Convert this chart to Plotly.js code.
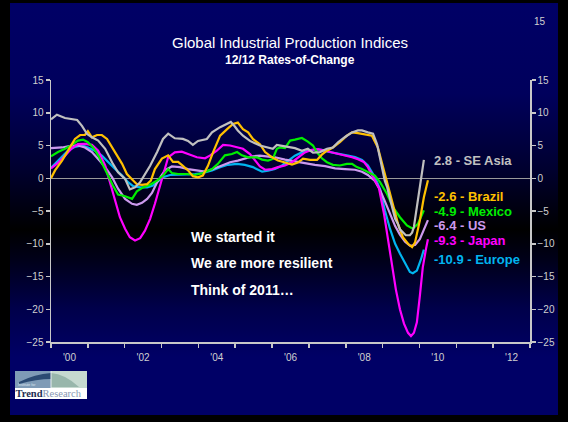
<!DOCTYPE html>
<html>
<head>
<meta charset="utf-8">
<script src="https://cdn.plot.ly/plotly-3.0.1.min.js"></script>
<style>
html,body{margin:0;padding:0;background:#000;width:568px;height:422px;overflow:hidden;}
#bg{position:absolute;left:10px;top:3px;width:548px;height:412px;
 background:linear-gradient(to bottom,#000066 0%,#00005c 22%,#000030 40%,#000000 55%,#000018 62%,#00004a 74%,#000066 86%,#000066 100%);}
#logo{position:absolute;left:15px;top:371px;}
#chart{position:absolute;left:0;top:0;width:568px;height:422px;}
</style>
</head>
<body>
<div id="bg"></div>
<svg id="logo" width="72" height="28" viewBox="0 0 72 28">
  <rect x="0" y="0" width="72" height="28" fill="#ffffff"/>
  <rect x="0" y="0" width="36" height="17" fill="#7f9bb6"/>
  <rect x="36" y="0" width="36" height="17" fill="#c6d9d0"/>
  <path d="M4,11 Q20,3 36,2 L36,8 Q22,8 4,13 Z" fill="#2b4a72"/>
  <path d="M36,2 Q50,3 64,16 L36,16 Z" fill="#98b6ab"/>
  <rect x="35.5" y="0" width="1" height="17" fill="#e8eef2"/>
  <text x="3" y="15" font-family="Liberation Sans, Arial" font-size="3.5" fill="#dfe7ee">Institute for</text>
  <text x="0.5" y="26" font-family="Liberation Serif, serif" font-size="10.5" font-weight="bold" fill="#1e2f52">Trend<tspan font-weight="normal" fill="#8796b2">Research</tspan></text>
</svg>
<div id="chart"></div>
<script>
// ---- data ----
const xSEAsia = [2000.00,2000.16,2000.38,2000.57,2000.71,2000.84,2000.98,2001.11,2001.28,2001.47,2001.66,2001.82,2002.01,2002.14,2002.28,2002.42,2002.55,2002.69,2002.88,2003.04,2003.18,2003.36,2003.58,2003.72,2003.85,2003.99,2004.23,2004.37,2004.59,2004.80,2004.88,2004.99,2005.07,2005.21,2005.40,2005.67,2005.89,2006.02,2006.13,2006.27,2006.43,2006.62,2006.81,2006.97,2007.11,2007.30,2007.49,2007.65,2007.79,2007.98,2008.17,2008.33,2008.44,2008.60,2008.74,2008.85,2008.93,2009.01,2009.06,2009.12,2009.20,2009.28,2009.34,2009.42,2009.47,2009.55,2009.63,2009.74,2009.80,2009.85,2009.90,2009.96,2010.01,2010.07,2010.12];
const ySEAsia = [9.0,9.7,9.2,9.05,8.9,8.0,6.75,6.25,5.75,4.5,2.4,0.9,-0.1,-1.7,-1.4,-0.6,0.65,1.9,4.0,6.0,6.8,6.1,6.0,5.7,5.1,5.7,6.0,7.0,7.8,8.3,8.6,7.9,7.3,6.5,5.7,5.0,4.7,4.5,5.1,5.0,4.8,4.6,4.2,4.5,3.9,4.0,4.5,4.7,5.5,6.3,7.0,7.3,7.3,7.0,6.8,5.2,3.1,0.7,-0.4,-1.3,-3.3,-4.9,-6.2,-7.0,-7.8,-8.3,-8.7,-8.7,-8.3,-7.4,-5.6,-3.0,-1.0,0.7,2.8];

const xBrazil = [2000.00,2000.11,2000.30,2000.46,2000.65,2000.79,2000.92,2001.00,2001.11,2001.25,2001.38,2001.52,2001.66,2001.79,2001.93,2002.06,2002.20,2002.33,2002.47,2002.61,2002.71,2002.82,2003.01,2003.18,2003.31,2003.45,2003.58,2003.72,2003.85,2003.99,2004.12,2004.26,2004.40,2004.59,2004.78,2004.94,2005.07,2005.21,2005.35,2005.48,2005.67,2005.81,2006.00,2006.16,2006.35,2006.54,2006.70,2006.84,2007.03,2007.22,2007.35,2007.49,2007.65,2007.84,2008.03,2008.17,2008.33,2008.52,2008.71,2008.87,2009.01,2009.15,2009.28,2009.42,2009.55,2009.69,2009.80,2009.88,2010.01,2010.12,2010.23];
const yBrazil = [0.0,1.2,2.7,4.2,6.0,6.6,6.6,7.2,6.25,6.6,6.6,6.0,4.7,3.5,2.2,0.65,-0.1,-0.9,-1.0,-0.9,-0.35,1.4,3.0,3.5,2.5,2.5,1.9,1.2,0.3,0.15,0.4,1.9,4.0,6.5,7.5,8.3,8.5,7.5,7.0,6.0,5.2,4.0,3.2,2.7,2.4,2.1,2.4,3.0,2.8,2.8,3.6,4.2,4.7,5.5,6.5,7.0,6.9,6.75,6.5,4.7,1.7,-1.4,-4.4,-7.0,-9.0,-10.0,-10.5,-9.8,-6.45,-2.9,-0.3];

const xMexico = [2000.00,2000.19,2000.38,2000.57,2000.73,2000.87,2001.00,2001.14,2001.28,2001.41,2001.55,2001.68,2001.82,2002.01,2002.20,2002.33,2002.50,2002.69,2002.88,2003.04,2003.18,2003.28,2003.45,2003.69,2003.91,2004.12,2004.37,2004.53,2004.72,2004.91,2005.05,2005.18,2005.35,2005.59,2005.73,2005.89,2006.02,2006.13,2006.21,2006.35,2006.49,2006.62,2006.81,2006.97,2007.11,2007.22,2007.35,2007.49,2007.65,2007.84,2008.03,2008.17,2008.30,2008.44,2008.60,2008.79,2008.93,2009.12,2009.28,2009.47,2009.66,2009.82,2009.96,2010.12];
const yMexico = [3.35,4.0,4.5,5.1,5.75,5.9,5.5,4.7,3.5,1.9,0.4,-1.1,-2.5,-2.75,-3.15,-2.0,-1.4,-1.0,-0.35,0.4,1.4,0.8,0.65,0.65,0.5,0.8,1.4,2.2,3.5,3.7,4.0,3.5,3.2,3.2,2.85,2.7,2.95,4.5,4.7,4.6,5.75,5.9,6.15,5.6,5.0,3.95,3.05,2.45,2.05,1.95,2.2,2.2,1.7,1.4,0.9,0.4,-0.6,-2.4,-4.4,-5.95,-7.2,-7.7,-6.95,-4.9];

const xUS = [2000.00,2000.30,2000.57,2000.73,2000.92,2001.11,2001.28,2001.47,2001.66,2001.82,2002.01,2002.20,2002.33,2002.47,2002.61,2002.74,2002.88,2003.09,2003.28,2003.50,2003.72,2003.96,2004.18,2004.40,2004.64,2004.86,2005.07,2005.32,2005.48,2005.67,2005.81,2006.08,2006.35,2006.62,2006.89,2007.16,2007.44,2007.71,2007.98,2008.25,2008.44,2008.60,2008.79,2008.93,2009.06,2009.20,2009.34,2009.47,2009.61,2009.74,2009.88,2010.01,2010.15,2010.23];
const yUS = [4.6,4.7,5.0,5.0,4.7,4.0,2.95,1.7,0.15,-1.6,-3.15,-3.9,-4.05,-3.75,-3.15,-2.25,-0.6,1.2,1.8,1.7,1.4,1.2,1.0,1.4,1.95,2.45,2.7,3.05,3.35,3.45,3.35,3.2,2.85,2.55,2.35,2.05,1.85,1.5,1.4,1.3,1.0,0.5,-0.4,-1.8,-3.5,-5.4,-7.3,-8.6,-9.7,-10.3,-10.2,-9.3,-7.6,-6.4];

const xJapan = [2000.00,2000.19,2000.38,2000.57,2000.73,2000.92,2001.11,2001.28,2001.47,2001.60,2001.74,2001.87,2002.01,2002.14,2002.28,2002.42,2002.55,2002.69,2002.82,2002.96,2003.07,2003.18,2003.36,2003.55,2003.72,2003.96,2004.18,2004.31,2004.50,2004.67,2004.86,2005.05,2005.21,2005.40,2005.54,2005.67,2005.81,2006.00,2006.16,2006.35,2006.54,2006.70,2006.89,2007.08,2007.25,2007.44,2007.63,2007.79,2007.98,2008.17,2008.33,2008.49,2008.60,2008.77,2008.90,2009.04,2009.15,2009.25,2009.36,2009.47,2009.58,2009.69,2009.77,2009.85,2009.93,2010.01,2010.09,2010.18,2010.23];
const yJapan = [1.5,2.35,3.45,4.6,5.2,5.25,5.1,4.2,1.95,-0.6,-3.4,-5.95,-7.7,-9.0,-9.5,-9.15,-8.0,-6.2,-3.9,-1.2,1.2,3.2,3.95,4.05,3.7,3.2,3.05,3.45,4.2,5.1,5.0,4.7,4.5,3.7,2.8,1.8,1.3,1.4,1.7,1.95,2.45,3.2,3.95,4.35,4.45,4.2,3.95,3.7,3.45,3.2,2.9,2.5,1.7,0.0,-1.5,-5.5,-9.5,-13.5,-17.0,-20.0,-22.2,-23.6,-24.1,-23.6,-22.0,-18.0,-13.6,-10.7,-9.3];

const xEurope = [2000.00,2000.30,2000.46,2000.65,2000.84,2001.00,2001.19,2001.38,2001.55,2001.74,2001.93,2002.09,2002.23,2002.42,2002.61,2002.77,2002.88,2003.04,2003.23,2003.45,2003.69,2003.91,2004.12,2004.37,2004.59,2004.80,2005.05,2005.26,2005.48,2005.62,2005.73,2005.89,2006.08,2006.27,2006.43,2006.62,2006.81,2006.97,2007.16,2007.35,2007.52,2007.71,2007.90,2008.06,2008.25,2008.44,2008.60,2008.79,2008.93,2009.06,2009.20,2009.34,2009.47,2009.61,2009.74,2009.82,2009.93,2010.04,2010.12];
const yEurope = [1.6,3.2,4.2,4.8,5.0,4.7,4.2,3.45,2.45,1.4,0.4,-0.6,-1.2,-1.4,-1.4,-1.1,-0.6,0.15,0.5,0.5,0.6,0.65,0.8,1.2,1.7,2.05,2.2,2.05,1.7,1.3,1.0,1.15,1.4,1.95,2.7,3.45,3.95,4.2,4.35,4.35,4.05,3.8,3.65,3.45,3.25,2.8,1.95,0.15,-1.6,-4.9,-7.7,-10.0,-11.5,-13.0,-14.3,-14.5,-14.1,-12.4,-10.9];

const seriesNames = ["SE Asia","Brazil","Mexico","US","Japan","Europe"];
const latestValues = ["2.8","-2.6","-4.9","-6.4","-9.3","-10.9"];
const yearTicks = [2000,2001,2002,2003,2004,2005,2006,2007,2008,2009,2010,2011,2012,2013];
const yearLabelPos = [2000.5,2002.5,2004.5,2006.5,2008.5,2010.5,2012.5];
const yearLabels = ["'00","'02","'04","'06","'08","'10","'12"];
const valueTicks = [-25,-20,-15,-10,-5,0,5,10,15];
const noteLines = ["We started it","We are more resilient","Think of 2011\u2026"];

// ---- styles ----
const colors = {"SE Asia":"#c0c0c0","Brazil":"#ffc000","Mexico":"#00ee00","US":"#cc99ee","Japan":"#ff00ff","Europe":"#00b4f0"};
const FONT = 'Arial, "Liberation Sans", sans-serif';

function line(x, y, name, xa, ya) {
  return {x:x, y:y, name:name, type:'scatter', mode:'lines',
          line:{color:colors[name], width:2.2}, hoverinfo:'skip',
          xaxis:xa||'x', yaxis:ya||'y'};
}
const traces = [
  line(xEurope, yEurope, "Europe"),
  line(xUS, yUS, "US"),
  line(xJapan, yJapan, "Japan"),
  line(xMexico, yMexico, "Mexico"),
  line(xSEAsia, ySEAsia, "SE Asia", 'x2', 'y2'),
  line(xBrazil, yBrazil, "Brazil")
];

// plot area in pixels: x 51..530, y 80..342
const L=51, T=80, W=479, H=262;
const px = v => (v - L)/W;
const py = v => (T + H - v)/H;

const annotations = [];
annotations.push({xref:'paper',yref:'paper',x:px(290),y:py(60),text:'<b>12/12 Rates-of-Change</b>',
  showarrow:false,xanchor:'center',yanchor:'middle',font:{family:FONT,size:12,color:'#ffffff'}});
annotations.push({xref:'paper',yref:'paper',x:px(540),y:py(22),text:'15',
  showarrow:false,xanchor:'center',yanchor:'middle',font:{family:FONT,size:10,color:'#d0d0d0'}});
const labelY = [160.5,196.5,211.5,226,240.5,259.5];
seriesNames.forEach((n,i)=>{
  annotations.push({xref:'paper',yref:'paper',x:px(433),y:py(labelY[i]),
    text:'<b>'+latestValues[i]+' - '+n+'</b>',showarrow:false,xanchor:'left',yanchor:'middle',
    borderpad:0,font:{family:FONT,size:13,color:colors[n]}});
});
const noteY = [237,263,290];
noteLines.forEach((t,i)=>{
  annotations.push({xref:'paper',yref:'paper',x:px(189),y:py(noteY[i]),text:'<b>'+t+'</b>',
    showarrow:false,xanchor:'left',yanchor:'middle',font:{family:FONT,size:14,color:'#ffffff'}});
});

const axisCol = '#c8c8c8';
const layout = {
  width:568, height:422,
  margin:{l:L, r:568-L-W, t:T, b:422-T-H, pad:0},
  paper_bgcolor:'rgba(0,0,0,0)', plot_bgcolor:'rgba(0,0,0,0)',
  showlegend:false,
  font:{family:FONT, size:10, color:'#d0d0d0'},
  title:{text:'Global Industrial Production Indices', font:{family:FONT,size:15,color:'#ffffff'},
         x:290/568, xanchor:'center', xref:'container', y:1-43/422, yanchor:'middle'},
  xaxis:{range:[2000,2013], tickmode:'array', tickvals:yearTicks, ticktext:yearTicks.map(()=>''),
         showline:true, linecolor:axisCol, linewidth:1.5, ticks:'outside', ticklen:4, tickwidth:1.5,
         tickcolor:axisCol, showgrid:false, zeroline:false, fixedrange:true},
  xaxis2:{overlaying:'x', anchor:'y', side:'bottom', range:[2000,2013], tickmode:'array',
          tickvals:yearLabelPos, ticktext:yearLabels, ticks:'', showline:false, showgrid:false,
          zeroline:false, ticklabelstandoff:8, tickfont:{family:FONT,size:10,color:'#d0d0d0'}},
  yaxis:{range:[-25,15], tickmode:'array', tickvals:valueTicks, showline:true, linecolor:axisCol,
         linewidth:1.5, ticks:'outside', ticklen:4, tickwidth:1.5, tickcolor:axisCol, showgrid:false,
         zeroline:true, zerolinecolor:'#9a9a9a', zerolinewidth:1.5,
         tickfont:{family:FONT,size:10,color:'#d0d0d0'}},
  yaxis2:{overlaying:'y', anchor:'x', side:'right', range:[-25,15], tickmode:'array', tickvals:valueTicks,
          showline:true, linecolor:axisCol, linewidth:1.5, ticks:'outside', ticklen:4, tickwidth:1.5,
          tickcolor:axisCol, showgrid:false, zeroline:false,
          tickfont:{family:FONT,size:10,color:'#d0d0d0'}},
  annotations:annotations
};
Plotly.newPlot('chart', traces, layout, {displayModeBar:false, staticPlot:true});
</script>
</body>
</html>
